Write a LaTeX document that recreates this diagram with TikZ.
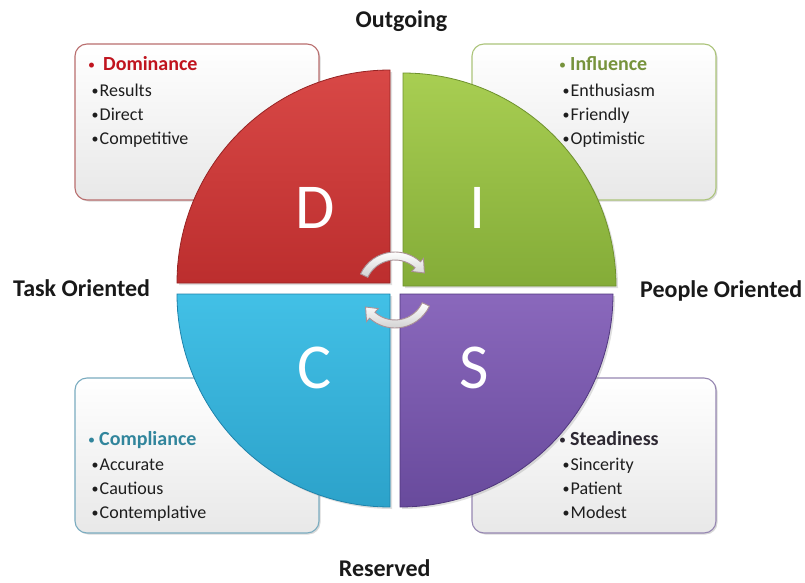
\documentclass[tikz,border=0pt]{standalone}
\usepackage{fontspec}
\setmainfont{Carlito}
\usetikzlibrary{shadows}
\definecolor{Dtop}{RGB}{216,72,70}
\definecolor{Dbot}{RGB}{188,46,46}
\definecolor{Dline}{RGB}{150,35,35}
\definecolor{Itop}{RGB}{168,206,82}
\definecolor{Ibot}{RGB}{132,172,56}
\definecolor{Iline}{RGB}{110,145,45}
\definecolor{Ctop}{RGB}{66,192,230}
\definecolor{Cbot}{RGB}{44,162,202}
\definecolor{Cline}{RGB}{30,130,170}
\definecolor{Stop}{RGB}{138,104,188}
\definecolor{Sbot}{RGB}{104,74,156}
\definecolor{Sline}{RGB}{80,55,125}
\definecolor{Dbox}{RGB}{185,110,110}
\definecolor{Ibox}{RGB}{172,196,122}
\definecolor{Cbox}{RGB}{122,172,192}
\definecolor{Sbox}{RGB}{150,135,178}
\definecolor{Dttl}{RGB}{192,20,30}
\definecolor{Ittl}{RGB}{119,147,60}
\definecolor{Cttl}{RGB}{49,133,156}
\definecolor{Sttl}{RGB}{45,40,50}
\definecolor{txt}{RGB}{30,30,30}
\definecolor{arrline}{RGB}{170,145,150}
\newcommand\bul[1]{\makebox[#1][l]{\raisebox{0.8pt}{\fontsize{14}{14}\selectfont\mdseries •}}}
\begin{document}
\begin{tikzpicture}[x=1pt,y=1pt,
  infobox/.style={rounded corners=12pt, minimum width=244pt, inner sep=0pt,
    line width=1.1pt, top color=white, bottom color=black!9,
    drop shadow={opacity=0.3, shadow xshift=1.5pt, shadow yshift=-1.5pt}},
  quad/.style={line width=0.8pt,
    drop shadow={opacity=0.25, shadow xshift=2pt, shadow yshift=-2pt}},
  ttl/.style={anchor=base west, inner sep=0pt, font=\fontsize{20}{24}\selectfont\bfseries},
  itm/.style={anchor=base west, inner sep=0pt, font=\fontsize{18}{22}\selectfont, text=txt},
  lbl/.style={inner sep=0pt, font=\fontsize{24}{28}\selectfont\bfseries, text=black!90},
  letter/.style={inner sep=0pt, text=white, font=\fontsize{64}{64}\selectfont},
  cyc/.style={line width=0.9pt, draw=arrline, top color=white, bottom color=black!18}
]
\useasboundingbox (0,0) rectangle (805,582);
\fill[white] (0,0) rectangle (805,582);

% info boxes
\node[infobox, draw=Dbox, minimum height=156pt] (dbox) at (197,460) {};
\node[infobox, draw=Ibox, minimum height=156pt] (ibox) at (594,460) {};
\node[infobox, draw=Cbox, minimum height=155pt] (cbox) at (197,126.5) {};
\node[infobox, draw=Sbox, minimum height=155pt] (sbox) at (594,126.5) {};

% box texts
\node[ttl, text=Dttl] (dt) at (88,511.3) {\bul{15pt}Dominance};
\node[itm] (d1) at (91.5,485.5) {\bul{8pt}Results};
\node[itm] (d2) at (91.5,461.5) {\bul{8pt}Direct};
\node[itm] (d3) at (91.5,437.5) {\bul{8pt}Competitive};

\node[ttl, text=Ittl] (it) at (559,511.3) {\bul{11pt}Influence};
\node[itm] (i1) at (562.5,485.5) {\bul{8pt}Enthusiasm};
\node[itm] (i2) at (562.5,461.5) {\bul{8pt}Friendly};
\node[itm] (i3) at (562.5,437.5) {\bul{8pt}Optimistic};

\node[ttl, text=Cttl] (ct) at (88,137) {\bul{11pt}Compliance};
\node[itm] (c1) at (91.5,112) {\bul{8pt}Accurate};
\node[itm] (c2) at (91.5,88) {\bul{8pt}Cautious};
\node[itm] (c3) at (91.5,64) {\bul{8pt}Contemplative};

\node[ttl, text=Sttl] (st) at (559,137) {\bul{11pt}Steadiness};
\node[itm] (s1) at (562.5,112) {\bul{8pt}Sincerity};
\node[itm] (s2) at (562.5,88) {\bul{8pt}Patient};
\node[itm] (s3) at (562.5,64) {\bul{8pt}Modest};

% quadrants
\path[quad, draw=Dline, top color=Dtop, bottom color=Dbot]
  (390,299) -- ++(-213,0) arc[start angle=180, end angle=90, radius=213] -- cycle;
\path[quad, draw=Iline, top color=Itop, bottom color=Ibot]
  (403,296) -- ++(0,213) arc[start angle=90, end angle=0, radius=213] -- cycle;
\path[quad, draw=Cline, top color=Ctop, bottom color=Cbot]
  (390,288) -- ++(-213,0) arc[start angle=180, end angle=270, radius=213] -- cycle;
\path[quad, draw=Sline, top color=Stop, bottom color=Sbot]
  (400,288) -- ++(213,0) arc[start angle=0, end angle=-90, radius=213] -- cycle;

% letters
\node[letter] (ld) at (315,374.5) {D};
\node[letter] (li) at (478,374.5) {I};
\node[letter] (lc) at (315,214.5) {C};
\node[letter] (ls) at (474,214.5) {S};

% cycle arrows
\begin{scope}[shift={(395,292)}]
\path[cyc] (155:38) arc[start angle=155, end angle=48, radius=38]
  -- (48:42.5) -- (30:34) -- (48:25) -- (48:30)
  arc[start angle=48, end angle=155, radius=30] -- cycle;
\path[cyc] (-25:38) arc[start angle=-25, end angle=-132, radius=38]
  -- (-132:42.5) -- (-150:34) -- (-132:25) -- (-132:30)
  arc[start angle=-132, end angle=-25, radius=30] -- cycle;
\end{scope}

% axis labels
\node[lbl, anchor=base] (out) at (401.5,554) {Outgoing};
\node[lbl, anchor=base] (res) at (384.7,6) {Reserved};
\node[lbl, anchor=base west] (task) at (13,285.3) {Task Oriented};
\node[lbl, anchor=base west] (peop) at (640,285) {People Oriented};
\end{tikzpicture}
\end{document}
